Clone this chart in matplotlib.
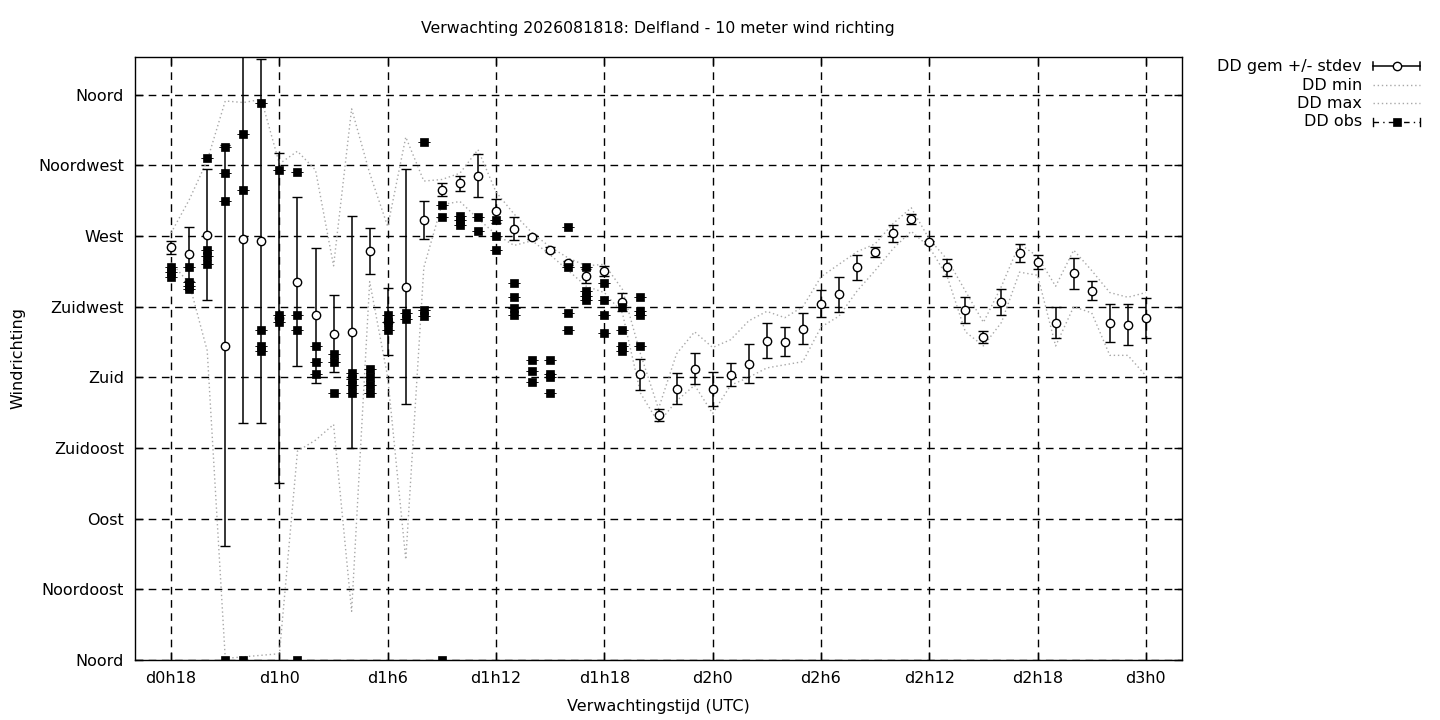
import numpy as np
import matplotlib
matplotlib.use('Agg')
import matplotlib.pyplot as plt
from matplotlib.lines import Line2D

# ---------------- data ----------------
hours = list(range(18, 73))
dd_mean = [262.7, 258.7, 270.8, 200.2, 268.2, 267.0, 218.0, 241.0, 219.4, 207.9,
           209.0, 260.5, 215.5, 237.8, 280.4, 299.5, 303.5, 308.5, 286.1, 274.7,
           269.6, 261.3, 252.8, 244.7, 247.9, 228.0, 182.0, 156.0, 172.7, 185.5,
           172.7, 181.8, 188.7, 203.4, 202.8, 211.1, 227.0, 232.8, 250.0, 259.8,
           271.7, 280.6, 266.0, 250.0, 222.8, 205.5, 227.9, 259.1, 253.4, 214.9,
           246.2, 235.3, 214.9, 213.6, 217.6]
dd_std = [4.2, 17.2, 41.6, 127.5, 117.0, 116.0, 105.0, 54.0, 43.0, 24.3,
          74.0, 14.5, 21.5, 74.7, 12.0, 4.2, 4.7, 13.7, 7.5, 7.2,
          1.3, 1.4, 1.4, 4.6, 3.2, 6.0, 10.0, 3.7, 9.8, 10.0,
          11.0, 7.3, 12.3, 11.2, 9.0, 9.9, 8.7, 11.2, 7.7, 3.4,
          5.4, 3.2, 1.0, 5.2, 8.3, 3.9, 8.3, 5.7, 4.4, 10.0,
          9.8, 5.8, 12.1, 13.1, 12.7]
dd_min = [253, 240, 197, 1, 2, 3, 4, 133, 140, 150,
          31, 241, 180, 64, 250, 290, 292, 281, 271, 264,
          267, 258, 248, 238, 234, 221, 170, 151, 165, 175,
          157, 175, 180, 186, 188, 190, 212, 219, 235, 248,
          262, 273, 263, 244, 209, 200, 215, 247, 245, 200,
          225, 221, 194, 194, 181]
dd_max = [272, 293, 318, 356, 355, 357, 316, 324, 312, 251,
          351, 310, 276, 333, 305, 306, 310, 325, 298, 284,
          272, 263, 256, 251, 252, 236, 195, 160, 195, 209,
          199, 204, 216, 222, 218, 225, 244, 252, 260, 265,
          278, 288, 268, 255, 235, 215, 238, 265, 257, 238,
          261, 248, 234, 231, 234]
obs_hours = [18, 18, 18,
             19, 19, 19, 19,
             20, 20, 20, 20,
             21, 21, 21, 21,
             22, 22, 22,
             23, 23, 23, 23,
             24, 24, 24,
             25, 25, 25, 25,
             26, 26, 26,
             27, 27, 27,
             28, 28, 28, 28,
             29, 29, 29, 29,
             30, 30, 30,
             31, 31,
             32, 32, 32,
             33, 33, 33,
             34, 34, 34,
             35, 35,
             36, 36, 36,
             37, 37, 37, 37,
             38, 38, 38,
             39, 39, 39, 39,
             40, 40, 40, 40,
             41, 41, 41, 41,
             42, 42, 42, 42,
             43, 43, 43, 43,
             44, 44, 44, 44]
obs_values = [250, 247, 244,
              250, 241, 238, 236,
              320, 261, 257, 252,
              327, 310, 292, 0,
              335, 299, 0,
              355, 210, 200, 197,
              312, 220, 215,
              311, 220, 210, 0,
              200, 190, 182,
              195, 190, 170,
              183, 179, 175, 170,
              185, 180, 175, 170,
              220, 215, 210,
              221, 217,
              330, 223, 219,
              290, 282, 0,
              283, 280, 277,
              282, 273,
              280, 270, 261,
              240, 231, 224, 220,
              191, 184, 177,
              191, 182, 180, 170,
              276, 250, 221, 210,
              250, 235, 232, 229,
              240, 229, 220, 208,
              225, 210, 200, 197,
              231, 222, 220, 200]
x_tick_hours = [18, 24, 30, 36, 42, 48, 54, 60, 66, 72]
x_tick_labels = ['d0h18', 'd1h0', 'd1h6', 'd1h12', 'd1h18',
                 'd2h0', 'd2h6', 'd2h12', 'd2h18', 'd3h0']
y_tick_degrees = [0, 45, 90, 135, 180, 225, 270, 315, 360]
y_tick_labels = ['Noord', 'Noordoost', 'Oost', 'Zuidoost', 'Zuid',
                 'Zuidwest', 'West', 'Noordwest', 'Noord']
legend_labels = ['DD gem +/- stdev', 'DD min', 'DD max', 'DD obs']

# ---------------- figure ----------------
plt.rcParams['font.family'] = ['DejaVu Sans']
FS = 11.5
W, H = 1440, 720
fig = plt.figure(figsize=(W / 100, H / 100), dpi=100)
ax = fig.add_axes([135 / W, 60 / H, (1182 - 135) / W, (660 - 57) / H])

ax.set_xlim(16, 74)
ax.set_ylim(0, 384)
ax.set_xticks(x_tick_hours)
ax.set_xticklabels(x_tick_labels)
ax.set_yticks(y_tick_degrees)
ax.set_yticklabels(y_tick_labels)
ax.tick_params(direction='in', length=6, width=1, top=True, right=True,
               labelsize=FS, colors='black')
ax.tick_params(axis='y', pad=8)
ax.tick_params(axis='x', pad=8)
ax.set_axisbelow(True)
ax.grid(True, color='black', linewidth=1, linestyle=(0, (5.5, 4)))
for s in ax.spines.values():
    s.set_linewidth(1)
    s.set_color('black')

grey = '#a8a8a8'
dotted = (0, (1, 2))
ax.plot(hours, dd_min, color=grey, lw=1, linestyle=dotted, zorder=2)
ax.plot(hours, dd_max, color=grey, lw=1, linestyle=dotted, zorder=2)

ax.errorbar(hours, dd_mean, yerr=dd_std, fmt='o', mfc='white', mec='black',
            mew=1, ms=6, ecolor='black', elinewidth=1.1, capsize=3.4,
            capthick=1.1, zorder=3)

ax.errorbar(obs_hours, obs_values, yerr=np.zeros(len(obs_values)), fmt='s',
            color='black', ms=5.6, mew=0.5, mec='black', elinewidth=0,
            capsize=4.0, capthick=1, zorder=4)

# titles
fig.text(658 / W, 1 - 29 / H, 'Verwachting 2026081818: Delfland - 10 meter wind richting',
         ha='center', va='center', fontsize=11.3)
fig.text(658 / W, 1 - 706 / H, 'Verwachtingstijd (UTC)', ha='center', va='center',
         fontsize=FS)
fig.text(18 / W, 1 - 358 / H, 'Windrichting', ha='center', va='center',
         rotation=90, fontsize=FS)

# legend (manual, gnuplot style)
rows_y = [66, 85, 103, 122]
x0, x1 = 1373, 1420
xm = (x0 + x1) / 2
def fy(y):
    return 1 - y / H
def fx(x):
    return x / W
for lab, y in zip(legend_labels, rows_y):
    fig.text(fx(1362), fy(y), lab, ha='right', va='center', fontsize=FS)
# gem
y = rows_y[0]
fig.add_artist(Line2D([fx(x0), fx(x1)], [fy(y), fy(y)], color='black', lw=1.1))
for xx in (x0, x1):
    fig.add_artist(Line2D([fx(xx), fx(xx)], [fy(y - 4), fy(y + 4)], color='black', lw=1.1))
fig.add_artist(Line2D([fx(xm)], [fy(y)], marker='o', mfc='white', mec='black', ms=6, mew=1))
# min / max
for y in rows_y[1:3]:
    fig.add_artist(Line2D([fx(x0), fx(x1)], [fy(y), fy(y)], color=grey, lw=1,
                          linestyle=dotted))
# obs
y = rows_y[3]
fig.add_artist(Line2D([fx(x0), fx(x1)], [fy(y), fy(y)], color='black', lw=1,
                      linestyle=(0, (4, 3, 1, 3))))
for xx in (x0, x1):
    fig.add_artist(Line2D([fx(xx), fx(xx)], [fy(y - 4), fy(y + 4)], color='black', lw=1))
fig.add_artist(Line2D([fx(xm)], [fy(y)], marker='s', color='black', ms=5.6, mew=0.5))

fig.savefig('out.png', dpi=100)
